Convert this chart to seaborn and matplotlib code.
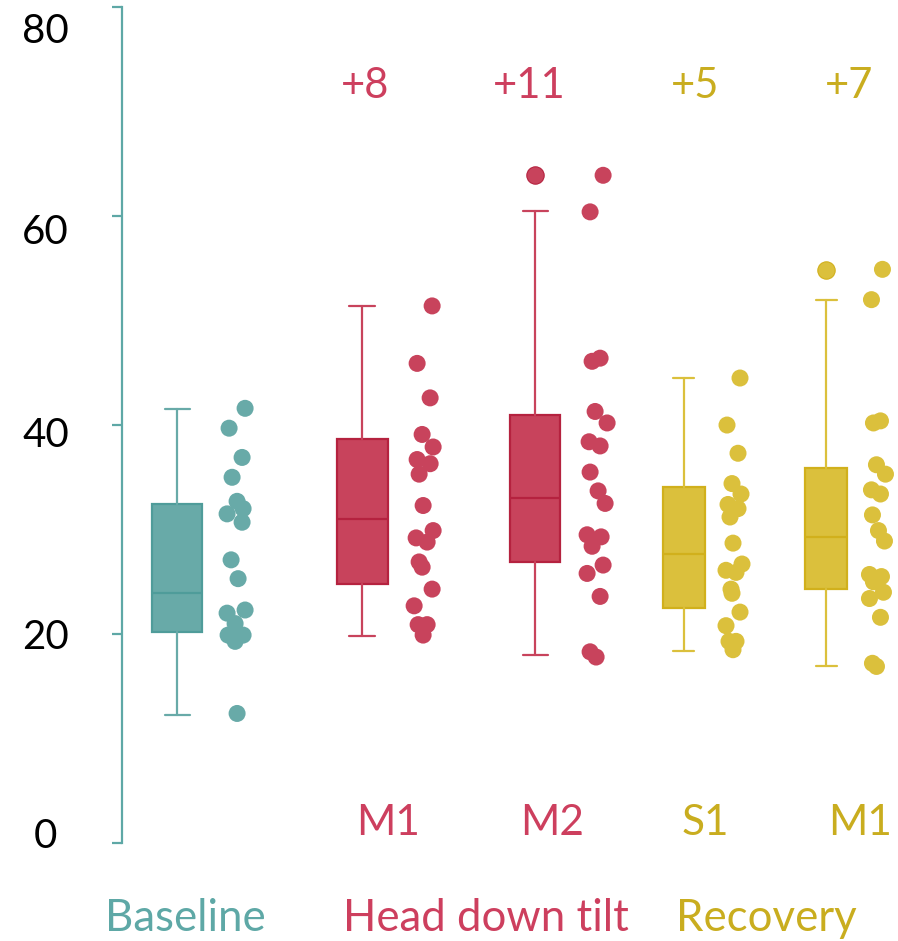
import numpy as np
import pandas as pd
import matplotlib
matplotlib.use("Agg")
import matplotlib.pyplot as plt
import matplotlib.transforms as mtransforms
import seaborn as sns

# =========================
# DATA
# =========================

groups = ["Baseline", "HDT M1", "HDT M2", "Rec S1", "Rec M1"]

baseline_vals = [41.6, 39.7, 36.9, 35.0, 32.7, 32.0, 31.5, 30.7, 27.1,
                 25.3, 22.3, 22.0, 21.0, 19.9, 19.9, 19.3, 12.4]
hdt_m1_vals = [51.4, 45.9, 42.6, 39.1, 37.9, 36.7, 36.3, 35.3, 32.3, 29.9,
               29.2, 28.8, 26.9, 26.4, 24.3, 22.7, 20.9, 20.9, 19.9]
hdt_m2_vals = [63.9, 60.4, 46.4, 46.1, 41.3, 40.2, 38.4, 38.0, 35.5, 33.7,
               32.5, 29.5, 29.3, 28.4, 26.6, 25.8, 23.6, 18.3, 17.8]
rec_s1_vals = [44.5, 40.0, 37.3, 34.4, 33.4, 32.4, 32.0, 31.2, 28.7, 26.7,
               26.1, 25.9, 24.3, 23.9, 22.1, 20.8, 19.3, 19.3, 18.5]
rec_m1_vals = [54.9, 52.0, 40.4, 40.2, 36.2, 35.3, 33.8, 33.4, 31.4, 29.9,
               28.9, 25.7, 25.5, 25.0, 24.0, 23.4, 21.6, 17.2, 16.9]

# box summary as drawn in the figure
box_lo = [12.3, 19.8, 18.0, 18.4, 16.9]
box_q1 = [20.2, 24.8, 26.9, 22.5, 24.3]
box_med = [23.9, 31.0, 33.0, 27.7, 29.3]
box_q3 = [32.4, 38.7, 41.0, 34.1, 35.9]
box_hi = [41.5, 51.4, 60.5, 44.5, 52.0]
box_fliers = [[], [], [63.9], [], [54.8]]

change_labels = ["", "+8", "+11", "+5", "+7"]
phase_labels = ["", "M1", "M2", "S1", "M1"]
y_ticks = [0, 20, 40, 60, 80]

# =========================
# LAYOUT / STYLE
# =========================

box_pos = [0.0, 1.0, 1.935, 2.74, 3.51]
box_w = [0.27, 0.276, 0.27, 0.227, 0.227]
strip_shift = [0.33, 0.341, 0.341, 0.276, 0.276]

# horizontal scatter of the dots (pixels)
jitter_px = [
    [7, -9, 4, -6, -1, 5, -11, 4, -7, 0, 7, -11, -3, -10, 5, -3, -1],
    [7, -8, 5, -3, 8, -8, 5, -6, -2, 8, -9, 2, -6, -3, 7, -11, -7, 2, -2],
    [5, -8, 2, -6, -3, 9, -9, 2, -8, 0, 7, -11, 3, -6, 5, -11, 2, -8, -2],
    [5, -8, 3, -3, 6, -7, 3, -5, -2, 7, -9, 1, -4, -3, 5, -9, -6, 1, -2],
    [5, -6, 3, -4, -1, 8, -6, 3, -5, 1, 7, -8, 4, -4, 6, -8, 3, -5, -1],
]
px_per_unit = 185.0

# tick labels in the original sit a bit off their ticks (pixels, + = down)
tick_label_shift = [-10, 0, 7, 13, 21]

face = ["#68aaa8", "#c8435c", "#c8435c", "#dbc03c", "#dbc03c"]
edge = ["#4f9c9a", "#b5223f", "#b5223f", "#d1b01c", "#d1b01c"]
teal_txt = "#5ea8a6"
red_txt = "#cd3f5e"
gold_txt = "#c9ad1f"
txt_col = ["", red_txt, red_txt, gold_txt, gold_txt]

sns.set_style("white")
plt.rcParams["font.family"] = ["Lato", "DejaVu Sans"]

fig = plt.figure(figsize=(8.98, 9.41), dpi=100)
ax = fig.add_axes([0.1359, 0.1041, 0.8641, 0.8884])

# =========================
# BOXES
# =========================

all_vals = [baseline_vals, hdt_m1_vals, hdt_m2_vals, rec_s1_vals, rec_m1_vals]

for i in range(len(groups)):
    stats = [{
        "med": box_med[i], "q1": box_q1[i], "q3": box_q3[i],
        "whislo": box_lo[i], "whishi": box_hi[i], "fliers": box_fliers[i],
    }]
    ax.bxp(
        stats,
        positions=[box_pos[i]],
        widths=[box_w[i]],
        patch_artist=True,
        boxprops=dict(facecolor=face[i], edgecolor=edge[i], linewidth=1.6),
        medianprops=dict(color=edge[i], linewidth=1.6),
        whiskerprops=dict(color=face[i], linewidth=1.6),
        capprops=dict(color=face[i], linewidth=1.6),
        flierprops=dict(marker="o", markersize=12.5, markerfacecolor=face[i],
                        markeredgecolor=edge[i], markeredgewidth=0.8),
        manage_ticks=False,
    )

# =========================
# DOTS
# =========================

rows = []
for i, vals in enumerate(all_vals):
    for v, j in zip(vals, jitter_px[i]):
        rows.append({
            "x": box_pos[i] + strip_shift[i] + j / px_per_unit,
            "value": v,
            "group": groups[i],
        })
df = pd.DataFrame(rows)

sns.scatterplot(
    data=df,
    x="x",
    y="value",
    hue="group",
    palette=dict(zip(groups, face)),
    s=150,
    linewidth=0,
    legend=False,
    ax=ax,
    zorder=3,
)

# =========================
# TEXT
# =========================

phase_x = [0, 1.141, 2.027, 2.854, 3.692]
change_x = [0, 1.016, 1.903, 2.80, 3.632]

for i in range(1, len(groups)):
    ax.text(phase_x[i], 1.9, phase_labels[i], color=txt_col[i],
            fontsize=30.5, ha="center", va="center")
    ax.text(change_x[i], 72.4, change_labels[i], color=txt_col[i],
            fontsize=30, ha="center", va="center")

ax.text(0.043, -7.2, "Baseline", color=teal_txt, fontsize=31.5,
        ha="center", va="center", clip_on=False)
ax.text(1.670, -7.2, "Head down tilt", color=red_txt, fontsize=31.5,
        ha="center", va="center", clip_on=False)
ax.text(3.184, -7.2, "Recovery", color=gold_txt, fontsize=31.5,
        ha="center", va="center", clip_on=False)

# =========================
# AXES
# =========================

ax.set_xlim(-0.2973, 3.897)
ax.set_ylim(0, 80)
ax.set_yticks(y_ticks)
ax.set_yticklabels([str(t) for t in y_ticks], ha="center")
ax.set_xticks([])
ax.set_xlabel("")
ax.set_ylabel("")

for side in ["top", "right", "bottom"]:
    ax.spines[side].set_visible(False)
ax.spines["left"].set_color(teal_txt)
ax.spines["left"].set_linewidth(1.6)

ax.tick_params(axis="y", direction="out", length=7, width=1.6,
               color=teal_txt, labelcolor="black", labelsize=29, pad=48,
               left=True)

for lab, dy in zip(ax.get_yticklabels(), tick_label_shift):
    offset = mtransforms.ScaledTranslation(0, -dy / 100.0, fig.dpi_scale_trans)
    lab.set_transform(lab.get_transform() + offset)

fig.savefig("out.png", dpi=100, facecolor="white")
